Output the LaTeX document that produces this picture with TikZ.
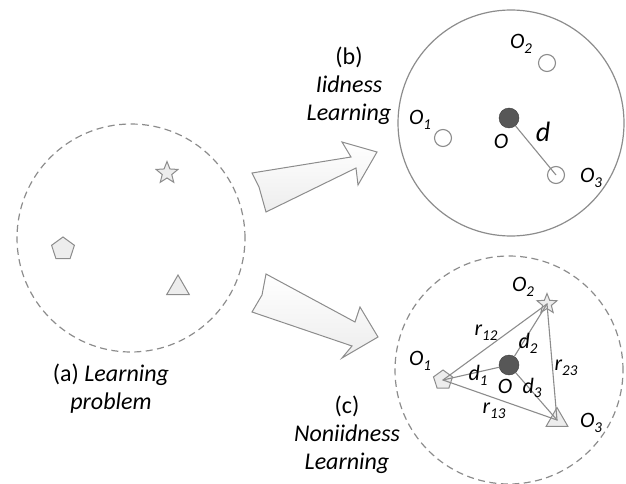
\documentclass[tikz,border=0pt]{standalone}
\usepackage{fontspec}
\setmainfont{Carlito}
\usetikzlibrary{shapes.geometric}

\definecolor{linegray}{HTML}{8C8C8C}
\definecolor{shapefill}{HTML}{EDEDED}
\definecolor{dotfill}{HTML}{575757}

\newcommand{\olabel}[2]{\textit{#1\raisebox{-0.45ex}{\fontsize{15}{15}\selectfont #2}}}

\begin{document}
\begin{tikzpicture}[x=1pt, y=-1pt,
	space/.style={circle, draw=linegray, line width=1.2pt, minimum size=#1, inner sep=0pt},
	dashspace/.style={space=#1, dash pattern=on 7pt off 4.5pt},
	point/.style={circle, draw=linegray, line width=1.1pt, fill=white, minimum size=17pt, inner sep=0pt},
	centre/.style={circle, draw=dotfill!70!black, fill=dotfill, minimum size=20pt, inner sep=0pt},
	pentnode/.style={regular polygon, regular polygon sides=5, draw=linegray, fill=shapefill, line width=1pt, minimum size=#1, inner sep=0pt},
	starnode/.style={star, star points=5, star point ratio=2.3, draw=linegray, fill=shapefill, line width=1pt, minimum size=#1, inner sep=0pt},
	trinode/.style={regular polygon, regular polygon sides=3, draw=linegray, fill=shapefill, line width=1pt, minimum size=#1, inner sep=0pt},
	link/.style={draw=linegray, line width=1.1pt},
	caption/.style={align=center, font=\fontsize{24}{28}\selectfont},
	objlabel/.style={font=\fontsize{22}{22}\selectfont}
]
	\useasboundingbox
		(0,0) rectangle (626,484);

	\node [dashspace=228pt] (spaceA) at (131,238) {};
	\node [space=226pt] (spaceB) at (511,123) {};
	\node [dashspace=228pt] (spaceC) at (509,370) {};

	\node [starnode=23pt] (starA) at (167,173) {};
	\node [pentnode=24pt] (pentA) at (63,249) {};
	\node [trinode=26pt] (triA) at (178,288) {};

	\node [caption] (capA) at (111,389)
		{(a) \textit{Learning}\\ \textit{problem}};

	\draw
		[draw=linegray, line width=1pt, top color=white, bottom color=shapefill]
		(252,173) -- (259,187) -- (266,212) -- (356,168) -- (358,185)
		-- (377,152) -- (342,142) -- (351,157) -- cycle;

	\draw
		[draw=linegray, line width=1pt, top color=white, bottom color=shapefill]
		(266,274) -- (262,295) -- (252,312) -- (352,346) -- (342,358)
		-- (378,337) -- (360,307) -- (355,322) -- cycle;

	\node [caption] (capB) at (349,86)
		{(b)\\ \textit{Iidness}\\ \textit{Learning}};

	\node [caption] (capC) at (347,435)
		{(c)\\ \textit{Noniidness}\\ \textit{Learning}};

	\node [point] (o1B) at (443,138) {};
	\node [point] (o2B) at (547,63) {};
	\node [point] (o3B) at (556,175) {};
	\node [centre] (oB) at (509,118) {};

	\draw [link]
		(oB) -- (o3B.center);

	\node [objlabel] at (420,120) {\olabel{O}{1}};
	\node [objlabel] at (521,44) {\olabel{O}{2}};
	\node [objlabel] at (591,178) {\olabel{O}{3}};
	\node [objlabel] at (501,141) {\textit{O}};
	\node [font=\fontsize{28}{28}\selectfont] at (543,132) {\textit{d}};

	\node [pentnode=20pt] (pentC) at (443,380) {};
	\node [starnode=21pt] (starC) at (547,304) {};
	\node [trinode=25pt] (triC) at (557,420) {};
	\node [centre] (oC) at (509,365) {};

	\draw [link]
		(pentC.center) -- (starC.center) -- (triC.center) -- cycle;

	\draw [link]
		(oC) -- (pentC.center);

	\draw [link]
		(oC) -- (starC.center);

	\draw [link]
		(oC) -- (triC.center);

	\node [objlabel] at (420,361) {\olabel{O}{1}};
	\node [objlabel] at (523,287) {\olabel{O}{2}};
	\node [objlabel] at (591,423) {\olabel{O}{3}};
	\node [objlabel] at (505,386) {\textit{O}};
	\node [objlabel] at (486,333) {\olabel{r}{12}};
	\node [objlabel] at (566,368) {\olabel{r}{23}};
	\node [objlabel] at (494,411) {\olabel{r}{13}};
	\node [objlabel] at (478,375) {\olabel{d}{1}};
	\node [objlabel] at (528,343) {\olabel{d}{2}};
	\node [objlabel] at (532,388) {\olabel{d}{3}};
\end{tikzpicture}
\end{document}
